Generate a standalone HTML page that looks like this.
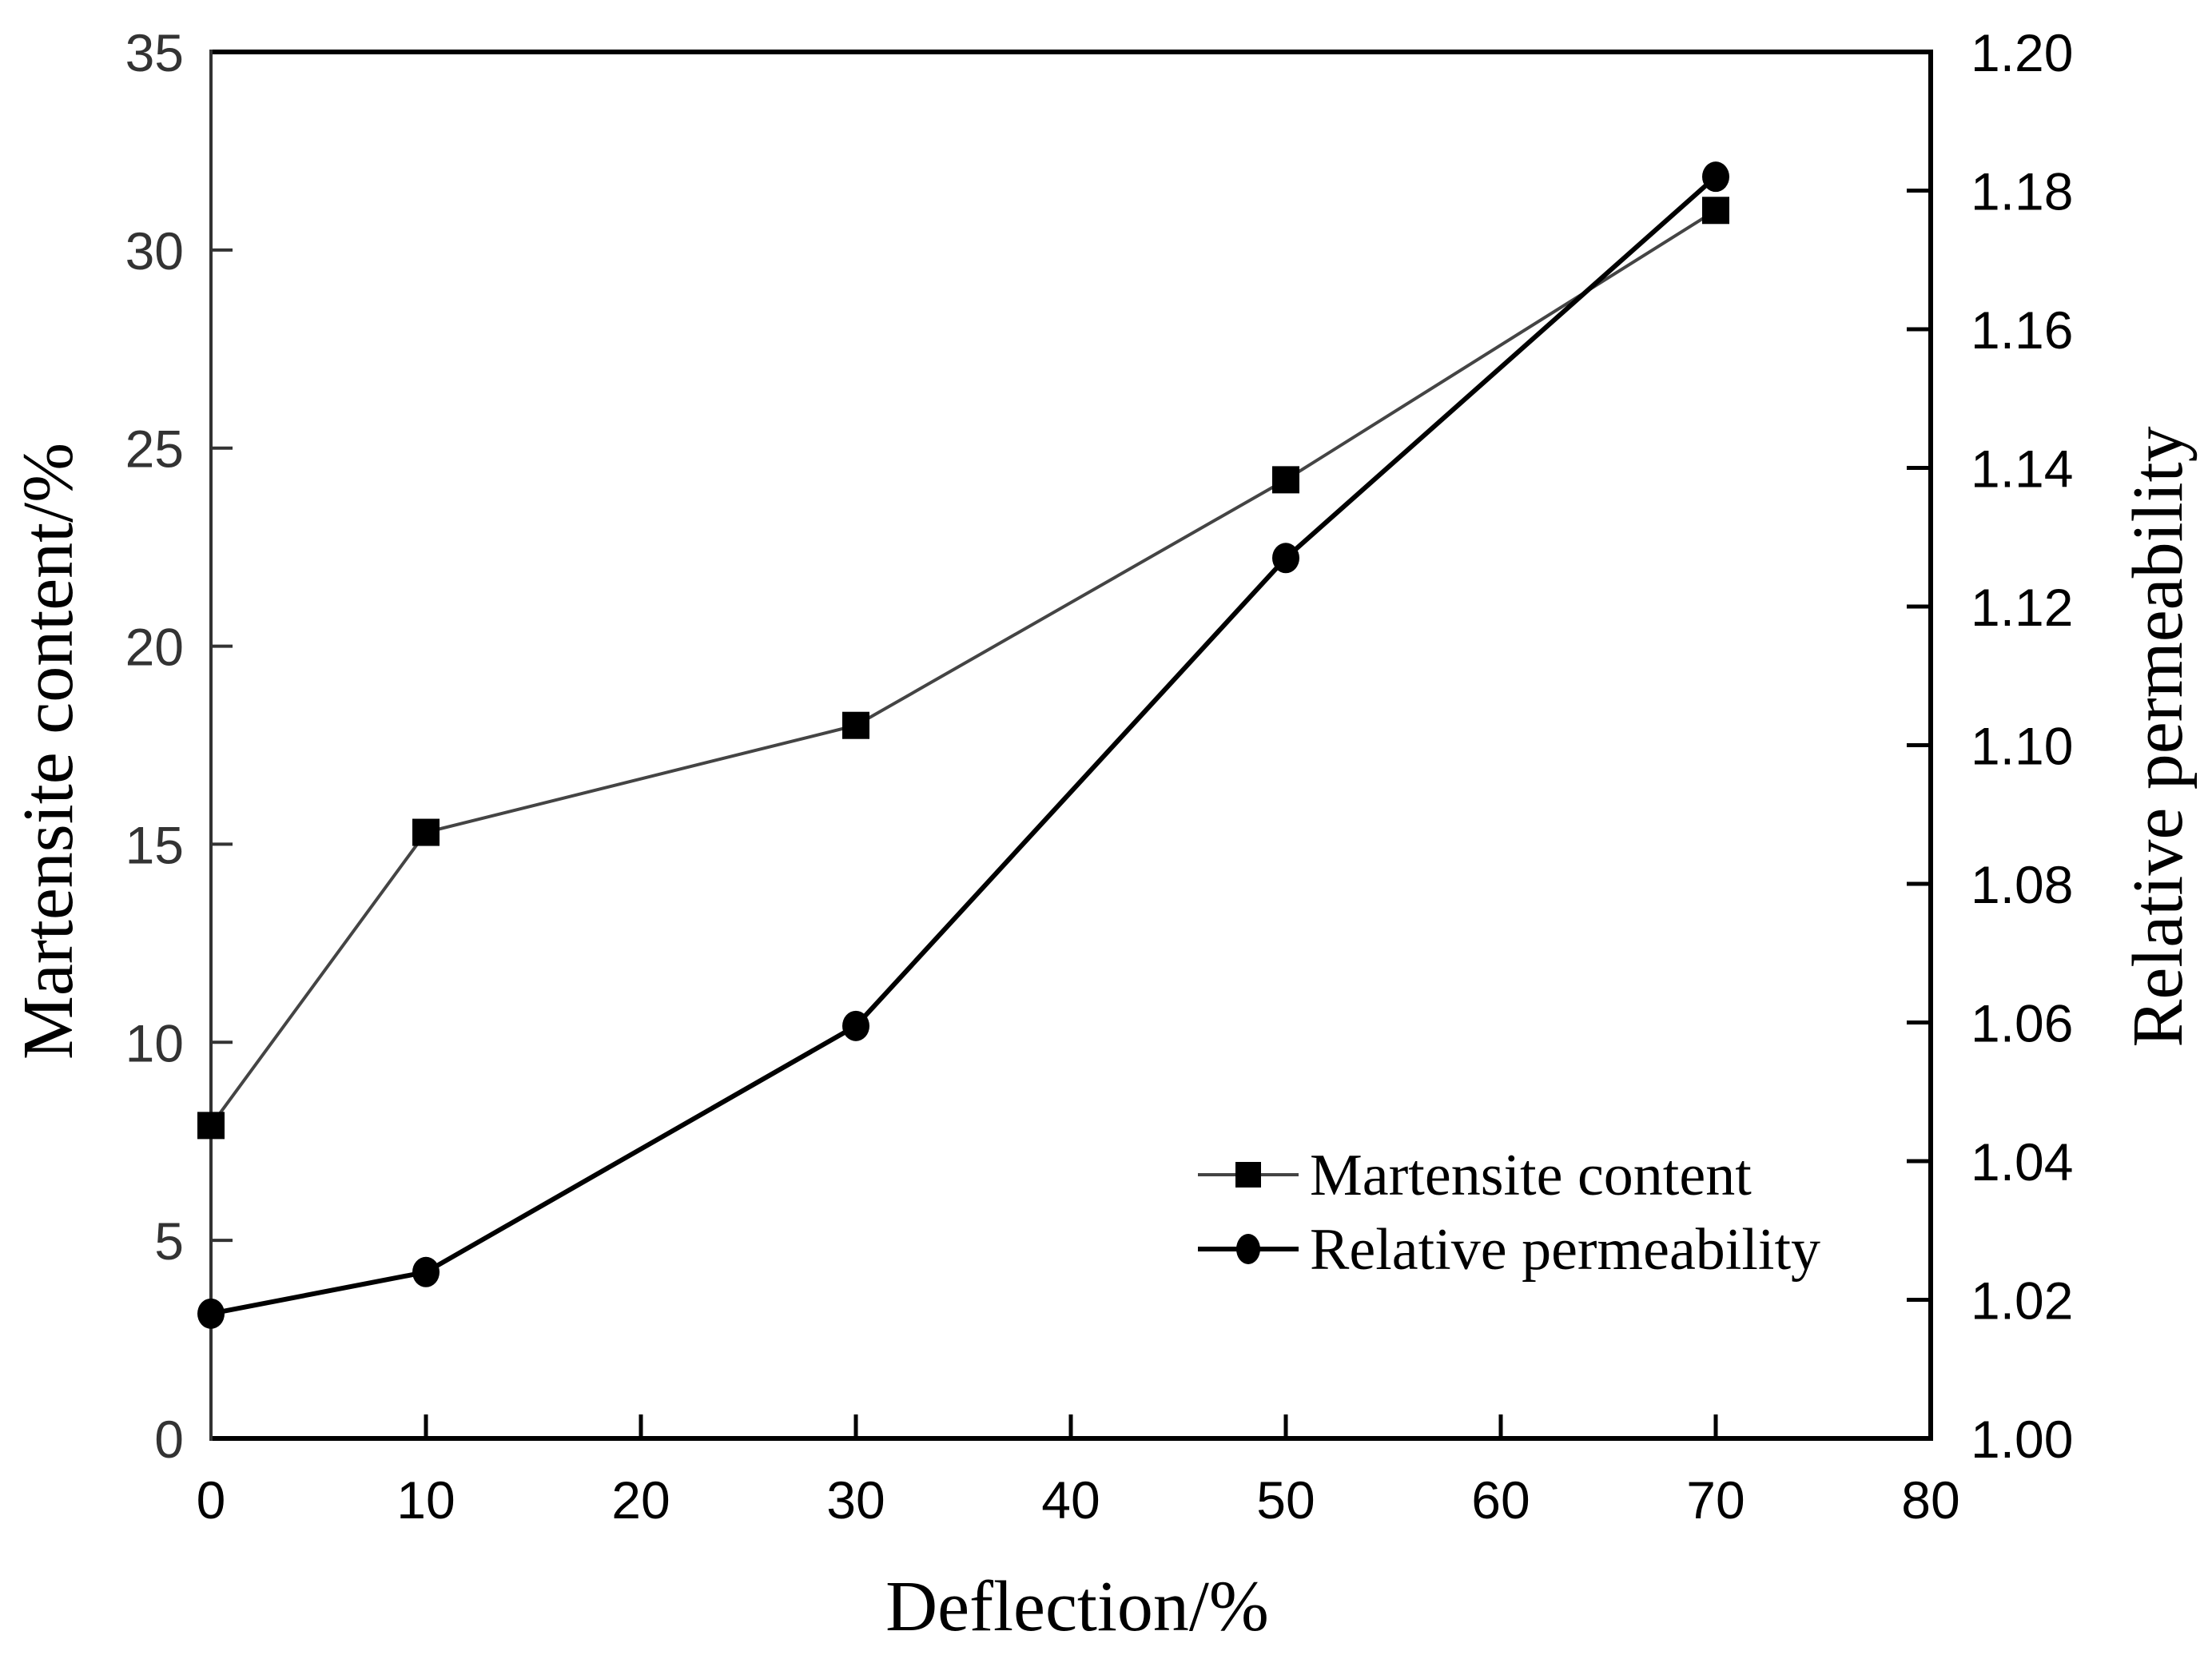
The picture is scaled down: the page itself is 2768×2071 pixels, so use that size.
<!DOCTYPE html>
<html><head><meta charset="utf-8"><style>
html,body{margin:0;padding:0;background:#fff;}
svg{display:block;}
.tick{font-family:"Liberation Sans",Arial,sans-serif;font-size:66px;}
.title{font-family:"Liberation Serif","Times New Roman",serif;font-size:90px;fill:#000;}
.leg{font-family:"Liberation Serif","Times New Roman",serif;font-size:74px;fill:#000;}
</style></head><body>
<svg id="chart" width="2768" height="2071" viewBox="0 0 2768 2071" xmlns="http://www.w3.org/2000/svg">
<rect width="2768" height="2071" fill="#fff"/>
<g id="grid"></g>
<g id="series"></g>
<g id="legend">
  <line x1="1499" y1="1470" x2="1625" y2="1470" stroke="#444" stroke-width="4"/>
  <rect x="1546" y="1454" width="32" height="32" fill="#000"/>
  <text class="leg" x="1639" y="1495">Martensite content</text>
  <line x1="1499" y1="1563" x2="1625" y2="1563" stroke="#000" stroke-width="6"/>
  <ellipse cx="1562" cy="1563" rx="15" ry="19" fill="#000"/>
  <text class="leg" x="1639" y="1588">Relative permeability</text>
</g>
<text class="title" x="1348" y="2040" text-anchor="middle">Deflection/%</text>
<text class="title" transform="translate(90,940) rotate(-90)" text-anchor="middle">Martensite content/%</text>
<text class="title" transform="translate(2730,922) rotate(-90)" text-anchor="middle">Relative permeability</text>
</svg>
<script>
const xValues = [0, 10, 30, 50, 70];
const martensite = [7.9, 15.3, 18.0, 24.2, 31.0];
const permeability = [1.018, 1.024, 1.0595, 1.127, 1.182];
const xTicks = [0, 10, 20, 30, 40, 50, 60, 70, 80];
const yLeftTicks = [0, 5, 10, 15, 20, 25, 30, 35];
const yRightTicks = ["1.00","1.02","1.04","1.06","1.08","1.10","1.12","1.14","1.16","1.18","1.20"];

const L=264, R=2416, T=65, B=1800;
const xs = v => L + (v-0)/(80-0)*(R-L);
const yl = v => B - v/35*(B-T);
const yr = v => B - (v-1.0)/0.2*(B-T);
const NS="http://www.w3.org/2000/svg";
function mk(tag, attrs, parent){const e=document.createElementNS(NS,tag);for(const k in attrs)e.setAttribute(k,attrs[k]);parent.appendChild(e);return e;}
const g=document.getElementById('grid'), s=document.getElementById('series');

let e;
e=mk('line',{x1:L,y1:T,x2:R,y2:T,stroke:'#000','stroke-width':6},g);


e=mk('line',{x1:L,y1:B,x2:R,y2:B,stroke:'#000','stroke-width':6},g);


e=mk('line',{x1:L,y1:T-3,x2:L,y2:B+3,stroke:'#333','stroke-width':4},g);


e=mk('line',{x1:R,y1:T-3,x2:R,y2:B+3,stroke:'#000','stroke-width':6},g);



xTicks.forEach(v=>{
  const x=xs(v);
  if(v>0&&v<80){e=mk('line',{x1:x,y1:B,x2:x,y2:B-30,stroke:'#000','stroke-width':5},g);
  
  }
  e=mk('text',{x:x,y:B+100,'text-anchor':'middle',class:'tick',fill:'#000'},g);
  e.textContent=v;
  
  
});
yLeftTicks.forEach(v=>{
  const y=yl(v);
  if(v>0&&v<35){e=mk('line',{x1:L,y1:y,x2:L+27,y2:y,stroke:'#333','stroke-width':4},g);
  
  }
  e=mk('text',{x:L-34,y:y+24,'text-anchor':'end',class:'tick',fill:'#333'},g);
  e.textContent=v;
  
  
});
yRightTicks.forEach(t=>{
  const v=parseFloat(t), y=yr(v);
  if(v>1.0&&v<1.2){e=mk('line',{x1:R,y1:y,x2:R-30,y2:y,stroke:'#000','stroke-width':5},g);
  
  }
  e=mk('text',{x:R+50,y:y+24,'text-anchor':'start',class:'tick',fill:'#000'},g);
  e.textContent=t;
  
  
});

e=mk('polyline',{points:xValues.map((x,i)=>xs(x)+','+yl(martensite[i])).join(' '),fill:'none',stroke:'#444','stroke-width':4},s);


e=mk('polyline',{points:xValues.map((x,i)=>xs(x)+','+yr(permeability[i])).join(' '),fill:'none',stroke:'#000','stroke-width':6},s);


xValues.forEach((x,i)=>{
  e=mk('rect',{x:xs(x)-17,y:yl(martensite[i])-17,width:34,height:34,fill:'#000'},s);
  
  
  e=mk('ellipse',{cx:xs(x),cy:yr(permeability[i]),rx:17,ry:19,fill:'#000'},s);
  
  
});
</script>
</body></html>
